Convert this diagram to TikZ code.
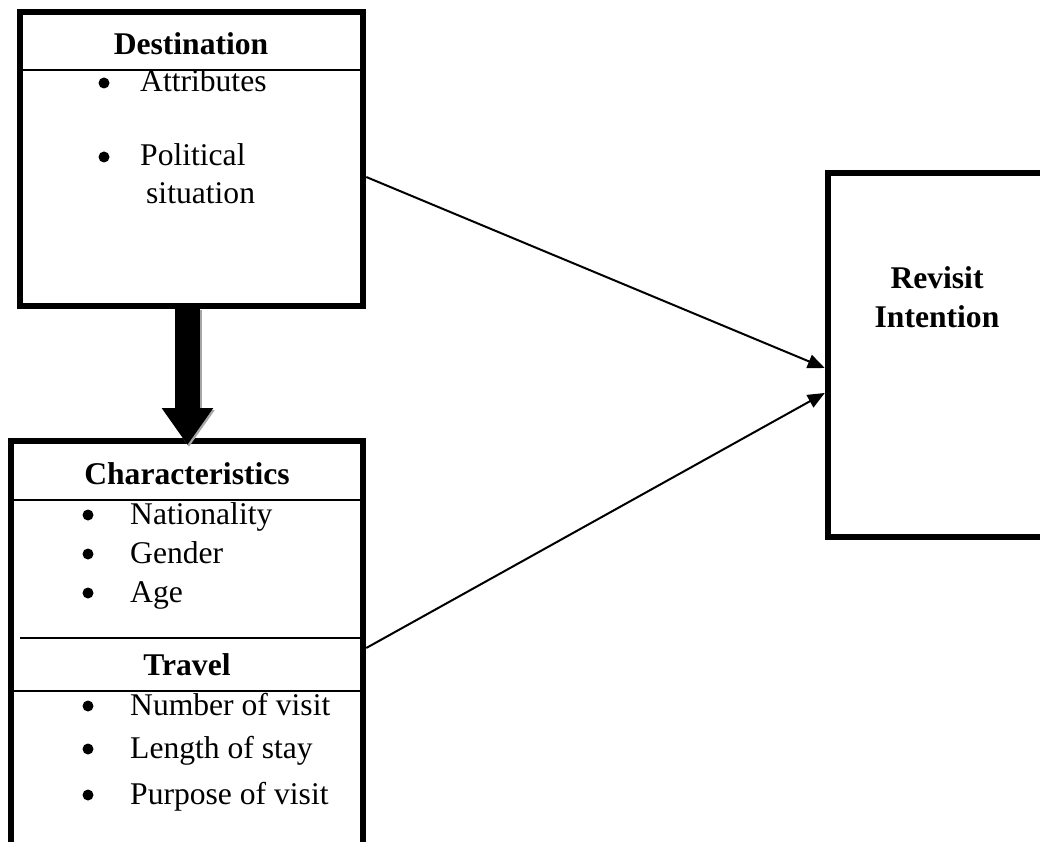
\documentclass[tikz,border=0pt]{standalone}
\usepackage{fontspec}
\setmainfont{Liberation Serif}
\usetikzlibrary{arrows.meta,calc}
\begin{document}
\begin{tikzpicture}[x=1pt,y=-1pt,
  box/.style={draw, line width=6.5pt, inner sep=0pt, rectangle},
  sep/.style={line width=1.5pt},
  txt/.style={inner sep=0pt, anchor=base west, font=\fontsize{31.6}{38}\selectfont},
  ttl/.style={inner sep=0pt, anchor=base, font=\fontsize{31.6}{38}\selectfont\bfseries},
  bul/.style={circle, fill, inner sep=0pt, minimum size=11pt},
  conn/.style={line width=2pt, -{Triangle[length=17pt,width=14pt]}}]
\useasboundingbox (0,0) rectangle (1040,842);
\clip (0,0) rectangle (1040,842);
\fill[white] (0,0) rectangle (1040,842);
% boxes
\node[box, minimum width=343pt, minimum height=294pt] (dest) at (191.5,159) {};
\node[box, minimum width=352pt, minimum height=439pt] (char) at (187,660.5) {};
\node[box, minimum width=260pt, minimum height=364pt] (rev) at (958,355) {};
% separators
\draw[sep] (dest.west |- 0,70) -- (dest.east |- 0,70);
\draw[sep] (char.west |- 0,500) -- (char.east |- 0,500);
\draw[sep] (20,638) coordinate (s1) -- (char.east |- s1);
\draw[sep] (char.west |- 0,691) -- (char.east |- 0,691);
% texts top box
\node[ttl] (t1) at (191,55) {Destination};
\node[bul] (b1) at (104,83) {};
\node[txt] (a1) at (140,92) {Attributes};
\node[bul] (b2) at (104,157) {};
\node[txt] (a2) at (140,166) {Political};
\node[txt] (a3) at (146,204) {situation};
% texts bottom box
\node[ttl] (t2) at (187,484) {Characteristics};
\node[bul] (b3) at (88,515) {};
\node[txt] (c1) at (130,524) {Nationality};
\node[bul] (b4) at (88,554) {};
\node[txt] (c2) at (130,563) {Gender};
\node[bul] (b5) at (88,593) {};
\node[txt] (c3) at (130,602) {Age};
\node[ttl] (t3) at (187,675) {Travel};
\node[bul] (b6) at (88,706) {};
\node[txt] (d1) at (130,715) {Number of visit};
\node[bul] (b7) at (88,749) {};
\node[txt] (d2) at (130,758) {Length of stay};
\node[bul] (b8) at (88,795) {};
\node[txt] (d3) at (130,804) {Purpose of visit};
% revisit
\node[ttl] (r1) at (937,288) {Revisit};
\node[ttl] (r2) at (937,327) {Intention};
% thick arrow
\coordinate (ta) at (187.5,308);
\coordinate (tb) at (187.5,445);
\draw[gray!70, line width=25pt, -{Triangle[length=37pt,width=49pt]}] ([xshift=1.5pt,yshift=-2pt]ta) -- ([xshift=1.5pt,yshift=-2pt]tb);
\draw[line width=25pt, -{Triangle[length=37pt,width=49pt]}] (ta) -- (tb);
% connectors
\draw[conn] ([yshift=-18pt]dest.east) -- ([yshift=-13pt]rev.west);
\draw[conn] ([yshift=12.5pt]char.east) -- ([yshift=-38pt]rev.west);
\end{tikzpicture}
\end{document}
